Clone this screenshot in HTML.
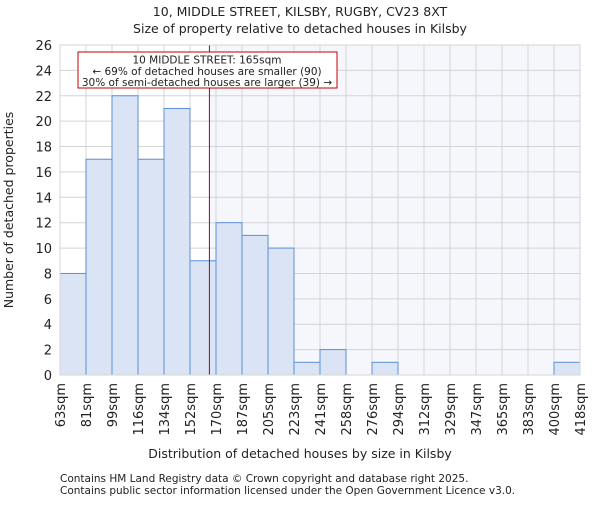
<!DOCTYPE html>
<html><head><meta charset="utf-8"><style>
body{margin:0;background:#fff}
svg text{font-family:"DejaVu Sans","Liberation Sans",sans-serif;fill:#222}
</style></head><body>
<svg id="c" width="600" height="500" xmlns="http://www.w3.org/2000/svg">
<text x="300" y="16" font-size="12.5" text-anchor="middle">10, MIDDLE STREET, KILSBY, RUGBY, CV23 8XT</text>
<text x="300" y="33" font-size="12.5" text-anchor="middle">Size of property relative to detached houses in Kilsby</text>
<g id="plot"></g>
<text x="300" y="458" font-size="12.5" text-anchor="middle">Distribution of detached houses by size in Kilsby</text>
<text transform="translate(13,210) rotate(-90)" font-size="12.5" text-anchor="middle">Number of detached properties</text>
<text x="60" y="482" font-size="10.5">Contains HM Land Registry data © Crown copyright and database right 2025.</text>
<text x="60" y="494" font-size="10.5">Contains public sector information licensed under the Open Government Licence v3.0.</text>
</svg>
<script>
const categories=["63sqm","81sqm","99sqm","116sqm","134sqm","152sqm","170sqm","187sqm","205sqm","223sqm","241sqm","258sqm","276sqm","294sqm","312sqm","329sqm","347sqm","365sqm","383sqm","400sqm","418sqm"];
const counts=[8,17,22,17,21,9,12,11,10,1,2,0,1,0,0,0,0,0,0,1];
const yTicks=[0,2,4,6,8,10,12,14,16,18,20,22,24,26];
const binStart=63, binEnd=418, propertySize=165;
const X0=60,X1=580,Y0=375,Y1=45,yMax=26;
const ns="http://www.w3.org/2000/svg";
const g=document.getElementById('plot');
const bw=(X1-X0)/counts.length;
const xs=v=>X0+(v-binStart)/(binEnd-binStart)*(X1-X0);
const ys=v=>Y0-v/yMax*(Y0-Y1);
function mk(t,a){const e=document.createElementNS(ns,t);for(const k in a)e.setAttribute(k,a[k]);g.appendChild(e);return e;}
const px=xs(propertySize);
let e=mk('rect',{x:px,y:Y1,width:X1-px,height:Y0-Y1,fill:'#f5f7fd'});


yTicks.forEach(t=>{
 let l=mk('line',{x1:X0,x2:X1,y1:ys(t),y2:ys(t),stroke:'#d4d4d4','stroke-width':1});
 
 
 let tx=mk('text',{x:X0-8,y:ys(t)+5,'font-size':13,'text-anchor':'end'});tx.textContent=t;
 
 
});
categories.forEach((c,i)=>{
 const x=X0+i*bw;
 let l=mk('line',{x1:x,x2:x,y1:Y1,y2:Y0,stroke:'#d4d4d4','stroke-width':1});
 
 
 let tx=mk('text',{transform:`translate(${x+5},${Y0+8}) rotate(-90)`,'font-size':13,'text-anchor':'end'});tx.textContent=c;
 
 
});
counts.forEach((v,i)=>{
 if(v<=0)return;
 let r=mk('rect',{x:X0+i*bw,y:ys(v),width:bw,height:Y0-ys(v),fill:'#dbe4f4',stroke:'#5b8fd6','stroke-width':1});
 
 
});
e=mk('line',{x1:px,x2:px,y1:Y1,y2:Y0,stroke:'#b00000','stroke-width':1});


e=mk('rect',{x:78,y:52,width:259,height:36,fill:'#fff',stroke:'#c00000','stroke-width':1});


["10 MIDDLE STREET: 165sqm","← 69% of detached houses are smaller (90)","30% of semi-detached houses are larger (39) →"].forEach((s,i)=>{
 let t=mk('text',{x:207,y:63.5+i*11.3,'font-size':10.5,'text-anchor':'middle'});t.textContent=s;
 
 
});
e=mk('rect',{x:X0,y:Y1,width:X1-X0,height:Y0-Y1,fill:'none',stroke:'#d4d4d4'});


</script>
</body></html>
